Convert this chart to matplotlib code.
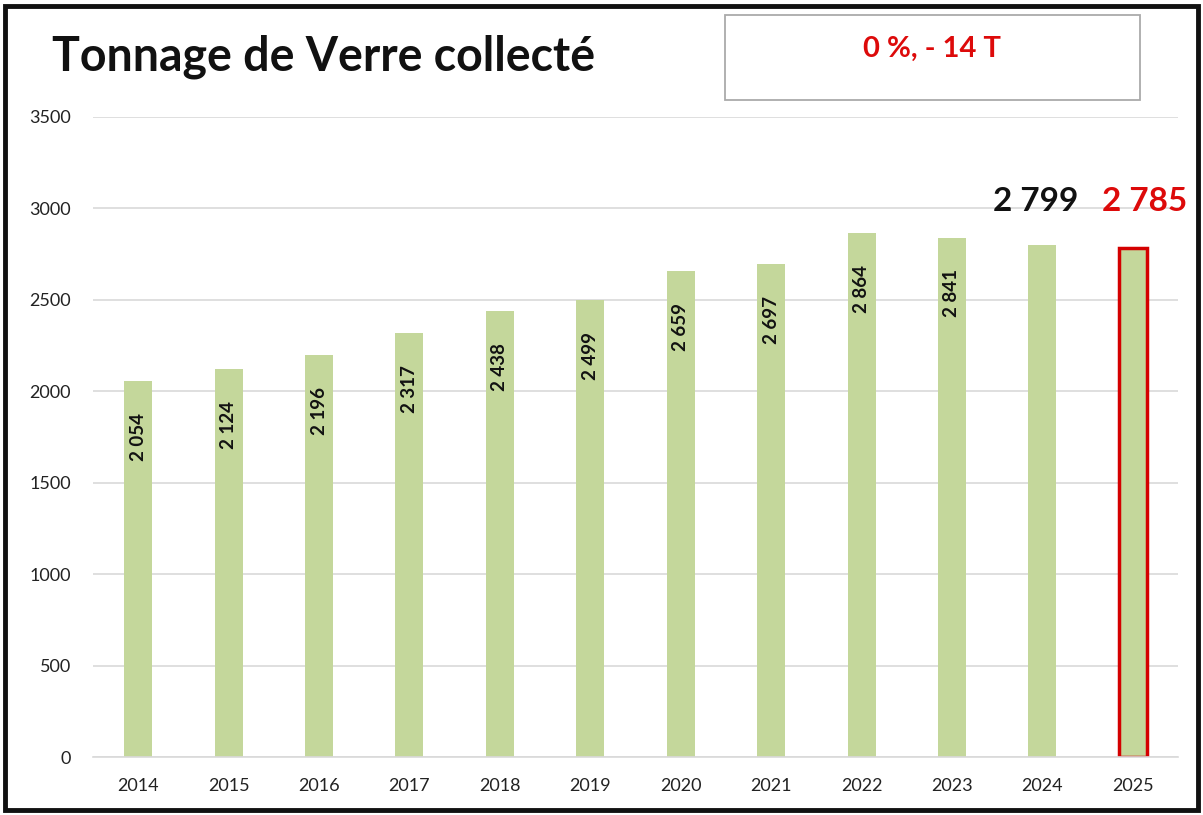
import matplotlib.pyplot as plt
from matplotlib.patches import Rectangle

# data
years = ['2014', '2015', '2016', '2017', '2018', '2019', '2020', '2021', '2022', '2023', '2024', '2025']
tonnes = [2054, 2124, 2196, 2317, 2438, 2499, 2659, 2697, 2864, 2841, 2799, 2785]
yticks = [0, 500, 1000, 1500, 2000, 2500, 3000, 3500]

plt.rcParams['font.family'] = ['Lato', 'DejaVu Sans']

fig = plt.figure(figsize=(12.03, 8.15), dpi=100)
ax = fig.add_axes([93/1203, 1 - 757/815, 1085/1203, 640/815])

x = list(range(len(years)))
colors = ['#c4d79b'] * len(years)
bars = ax.bar(x, tonnes, width=0.31, color=colors, zorder=2)

# last year highlighted with a red frame
bars[-1].set_edgecolor('#d40000')
bars[-1].set_linewidth(2.5)

# rotated labels inside the bars (not for the last two)
for i in range(len(years) - 2):
    lab = '{:,}'.format(tonnes[i]).replace(',', ' ')
    ax.annotate(lab, (x[i], tonnes[i]), xytext=(0, -23), textcoords='offset points',
                rotation=90, ha='center', va='top', fontsize=13.5, fontweight='bold',
                color='#111111')

# big labels above the last two bars
ax.text(x[-2] - 0.07, 2960, '{:,}'.format(tonnes[-2]).replace(',', ' '), ha='center', va='bottom',
        fontsize=24, fontweight='bold', color='#111111')
ax.text(x[-1] + 0.13, 2960, '{:,}'.format(tonnes[-1]).replace(',', ' '), ha='center', va='bottom',
        fontsize=24, fontweight='bold', color='#dd0a0a')

ax.set_xlim(-0.5, len(years) - 0.5)
ax.set_ylim(0, 3500)
ax.set_yticks(yticks)
ax.set_xticks(x)
ax.set_xticklabels(years)
ax.tick_params(axis='both', length=0, labelsize=13, colors='#222222')
ax.tick_params(axis='x', pad=15)
ax.tick_params(axis='y', pad=16)
ax.grid(axis='y', color='#d9d9d9', linewidth=1.2, zorder=0)
for s in ['top', 'right', 'left']:
    ax.spines[s].set_visible(False)
ax.spines['bottom'].set_color('#d9d9d9')
ax.spines['bottom'].set_linewidth(1.2)

# title and the summary box
fig.text(52/1203, 1 - 57/815, 'Tonnage de Verre collecté', ha='left', va='center',
         fontsize=33.5, fontweight='bold', color='#111111')
fig.patches.append(Rectangle((725/1203, 1 - 100/815), 415/1203, 85/815,
                             transform=fig.transFigure, fill=False,
                             edgecolor='#aaaaaa', linewidth=1.3))
fig.text(932/1203, 1 - 49/815, '0 %, - 14 T', ha='center', va='center',
         fontsize=21, fontweight='bold', color='#dd0a0a')

# outer frame
fig.patches.append(Rectangle((5/1203, 5/815), 1193/1203, 804/815,
                             transform=fig.transFigure, fill=False,
                             edgecolor='#111111', linewidth=3.5))

fig.savefig('out.png', dpi=100)
